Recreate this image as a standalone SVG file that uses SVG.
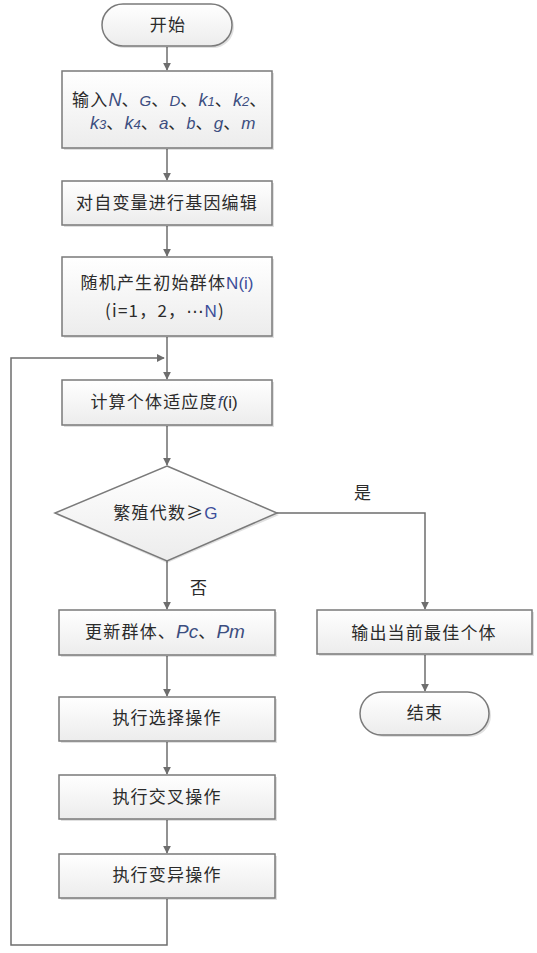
<svg xmlns="http://www.w3.org/2000/svg" width="537" height="953" viewBox="0 0 537 953">
<defs>
<linearGradient id="g" x1="0" y1="0" x2="0" y2="1">
<stop offset="0" stop-color="#ffffff"/>
<stop offset="1" stop-color="#ececec"/>
</linearGradient>
<marker id="ah" viewBox="0 0 10 10" refX="9" refY="5" markerWidth="8" markerHeight="8" markerUnits="userSpaceOnUse" orient="auto">
<path d="M0,0 L10,5 L0,10 z" fill="#6e6e6e"/>
</marker>
<style>
.box{fill:url(#g);stroke:#7a7a7a;stroke-width:1.5}
.sh{fill:#000;opacity:0.12}
.t{font-family:"Noto Sans CJK SC","Liberation Sans",sans-serif;font-size:17px;fill:#2b2b2b;letter-spacing:1.2px}
.l{font-family:"Liberation Sans",sans-serif;font-style:italic;fill:#3c4e80;letter-spacing:0}
.c{fill:none;stroke:#6e6e6e;stroke-width:1.5}
</style>
</defs>
<rect width="537" height="953" fill="#ffffff"/>
<g id="connectors">
<line class="c" x1="167" y1="47" x2="167" y2="70" marker-end="url(#ah)"/>
<line class="c" x1="167" y1="149" x2="167" y2="180" marker-end="url(#ah)"/>
<line class="c" x1="167" y1="226" x2="167" y2="256" marker-end="url(#ah)"/>
<line class="c" x1="167" y1="337" x2="167" y2="379" marker-end="url(#ah)"/>
<line class="c" x1="167" y1="426" x2="167" y2="465" marker-end="url(#ah)"/>
<line class="c" x1="167" y1="561" x2="167" y2="609" marker-end="url(#ah)"/>
<polyline class="c" points="277,513 425,513 425,609" marker-end="url(#ah)"/>
<line class="c" x1="167" y1="656" x2="167" y2="696" marker-end="url(#ah)"/>
<line class="c" x1="167" y1="742" x2="167" y2="774" marker-end="url(#ah)"/>
<line class="c" x1="167" y1="820" x2="167" y2="853" marker-end="url(#ah)"/>
<polyline class="c" points="167,899 167,945 11,945 11,358 164,358" marker-end="url(#ah)"/>
<line class="c" x1="425" y1="655" x2="425" y2="691" marker-end="url(#ah)"/>
<text class="t" x="363" y="499" text-anchor="middle">是</text>
<text class="t" x="199" y="594" text-anchor="middle">否</text>
</g>
<g id="start">
<rect class="sh" x="104" y="6" width="130" height="42" rx="21"/>
<rect class="box" x="102" y="4" width="130" height="42" rx="21"/>
<text class="t" x="168" y="31" text-anchor="middle">开始</text>
</g>
<g id="input">
<rect class="sh" x="64" y="73" width="210" height="77"/>
<rect class="box" x="62" y="71" width="210" height="77"/>
<text class="t" x="72" y="106" letter-spacing="0.5">输入<tspan class="l" font-size="18">N</tspan>、<tspan class="l" font-size="15">G</tspan>、<tspan class="l" font-size="15">D</tspan>、<tspan class="l" font-size="18">k</tspan><tspan class="l" font-size="13">1</tspan>、<tspan class="l" font-size="18">k</tspan><tspan class="l" font-size="13">2</tspan>、</text>
<text class="t" x="90" y="129" letter-spacing="0"><tspan class="l" font-size="18">k</tspan><tspan class="l" font-size="13">3</tspan>、<tspan class="l" font-size="18">k</tspan><tspan class="l" font-size="13">4</tspan>、<tspan class="l" font-size="17">a</tspan>、<tspan class="l" font-size="16">b</tspan>、<tspan class="l" font-size="17">g</tspan>、<tspan class="l" font-size="17">m</tspan></text>
</g>
<g id="encode">
<rect class="sh" x="64" y="183" width="210" height="44"/>
<rect class="box" x="62" y="181" width="210" height="44"/>
<text class="t" x="167" y="209" text-anchor="middle">对自变量进行基因编辑</text>
</g>
<g id="init">
<rect class="sh" x="64" y="259" width="210" height="79"/>
<rect class="box" x="62" y="257" width="210" height="79"/>
<text class="t" x="167" y="289" text-anchor="middle">随机产生初始群体<tspan fill="#3c4e9a" font-family="Liberation Sans,sans-serif" letter-spacing="0">N(i)</tspan></text>
<text class="t" x="165" y="317" text-anchor="middle">(i=1，2，<tspan font-family="DejaVu Sans,sans-serif">⋯</tspan><tspan fill="#3c4e9a" font-family="Liberation Sans,sans-serif">N</tspan>)</text>
</g>
<g id="fitness">
<rect class="sh" x="64" y="382" width="210" height="45"/>
<rect class="box" x="62" y="380" width="210" height="45"/>
<text class="t" x="164" y="408" text-anchor="middle">计算个体适应度<tspan class="l">f</tspan><tspan font-family="Liberation Sans,sans-serif" letter-spacing="0">(i)</tspan></text>
</g>
<g id="decision">
<polygon class="sh" points="167,468 279,515 167,563 57,515"/>
<polygon class="box" points="167,466 277,513 167,561 55,513"/>
<text class="t" x="166" y="519" text-anchor="middle">繁殖代数≥<tspan fill="#3c4e9a" font-family="Liberation Sans,sans-serif">G</tspan></text>
</g>
<g id="update">
<rect class="sh" x="61" y="612" width="216" height="45"/>
<rect class="box" x="59" y="610" width="216" height="45"/>
<text class="t" x="165" y="638" text-anchor="middle">更新群体、<tspan class="l" font-size="19">Pc</tspan>、<tspan class="l" font-size="19">Pm</tspan></text>
</g>
<g id="select">
<rect class="sh" x="61" y="699" width="216" height="44"/>
<rect class="box" x="59" y="697" width="216" height="44"/>
<text class="t" x="167" y="724" text-anchor="middle">执行选择操作</text>
</g>
<g id="crossover">
<rect class="sh" x="61" y="777" width="216" height="44"/>
<rect class="box" x="59" y="775" width="216" height="44"/>
<text class="t" x="167" y="803" text-anchor="middle">执行交叉操作</text>
</g>
<g id="mutate">
<rect class="sh" x="61" y="856" width="216" height="44"/>
<rect class="box" x="59" y="854" width="216" height="44"/>
<text class="t" x="167" y="881" text-anchor="middle">执行变异操作</text>
</g>
<g id="output">
<rect class="sh" x="319" y="612" width="215" height="44"/>
<rect class="box" x="317" y="610" width="215" height="44"/>
<text class="t" x="424" y="639" text-anchor="middle">输出当前最佳个体</text>
</g>
<g id="end">
<rect class="sh" x="362" y="694" width="129" height="43" rx="21.5"/>
<rect class="box" x="360" y="692" width="129" height="43" rx="21.5"/>
<text class="t" x="425" y="719" text-anchor="middle">结束</text>
</g>
</svg>
